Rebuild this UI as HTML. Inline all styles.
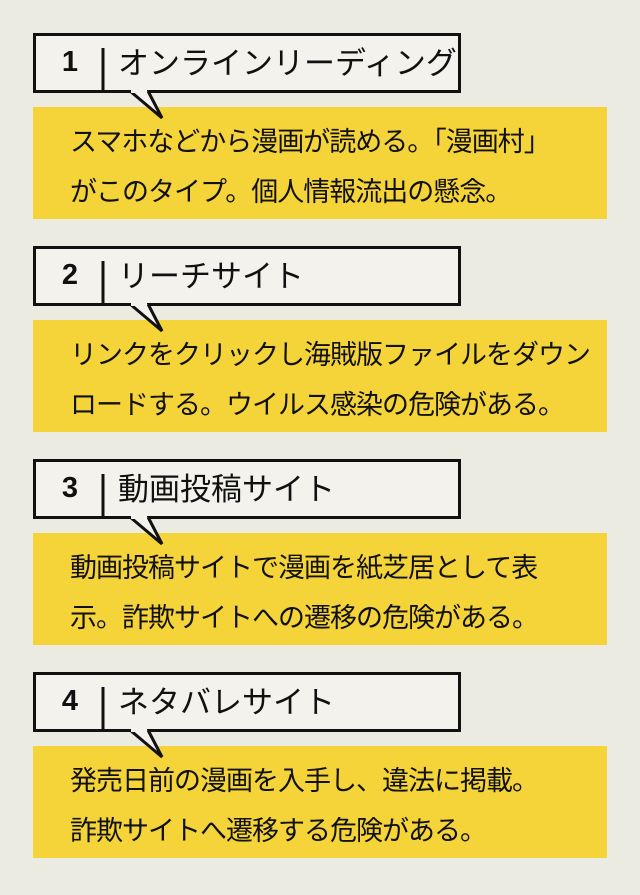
<!DOCTYPE html>
<html><head><meta charset="utf-8"><style>
body{margin:0;width:640px;height:895px;background:#ecebe1;font-family:"Liberation Sans","Noto Sans CJK JP",sans-serif;position:relative;overflow:hidden}
.y{position:absolute;left:33px;width:574px;height:112px;background:#f5d43a}
.t{position:absolute;left:70px;font-size:27px;line-height:50px;color:#111;letter-spacing:-1px;white-space:nowrap}
.n{position:absolute;left:56px;font-size:29px;font-weight:bold;color:#111;width:28px;text-align:center}
.h{position:absolute;left:118px;font-size:31px;color:#111;white-space:nowrap}
svg{position:absolute;left:0;top:0}
</style></head><body>
<div class="y" style="top:107px"></div>
<div class="y" style="top:320px"></div>
<div class="y" style="top:533px"></div>
<div class="y" style="top:746px"></div>
<svg width="640" height="895">
<g fill="#f3f2ec" stroke="#111" stroke-width="3">
<g id="b"><rect x="34.5" y="34.5" width="425" height="57"/><path d="M130 91 L162 118 L148 91" stroke-linejoin="miter"/><line x1="131" y1="91" x2="147" y2="91" stroke="#f3f2ec" stroke-width="4"/><line x1="103" y1="48" x2="103" y2="91"/></g>
<use href="#b" y="213"/><use href="#b" y="426"/><use href="#b" y="639"/>
</g></svg>
<div class="n" style="top:46px">1</div><div class="h" style="top:38px">オンラインリーディング</div>
<div class="t" style="top:117px">スマホなどから漫画が読める。｢漫画村｣<br>がこのタイプ。個人情報流出の懸念。</div>
<div class="n" style="top:259px">2</div><div class="h" style="top:251px">リーチサイト</div>
<div class="t" style="top:330px">リンクをクリックし海賊版ファイルをダウン<br>ロードする。ウイルス感染の危険がある。</div>
<div class="n" style="top:472px">3</div><div class="h" style="top:464px">動画投稿サイト</div>
<div class="t" style="top:543px">動画投稿サイトで漫画を紙芝居として表<br>示。詐欺サイトへの遷移の危険がある。</div>
<div class="n" style="top:685px">4</div><div class="h" style="top:677px">ネタバレサイト</div>
<div class="t" style="top:756px">発売日前の漫画を入手し、違法に掲載。<br>詐欺サイトへ遷移する危険がある。</div>
</body></html>
